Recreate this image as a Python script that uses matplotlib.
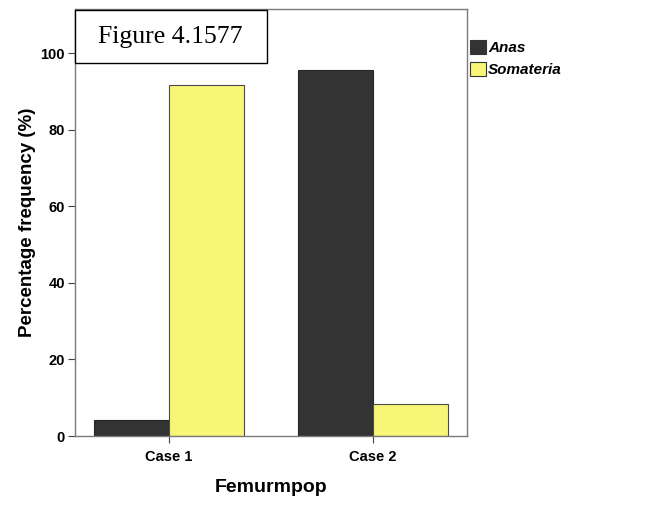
import numpy as np
import matplotlib
matplotlib.use("Agg")
from matplotlib import pyplot as plt
from matplotlib.patches import Rectangle

plt.rcParams['font.family'] = ['Liberation Sans', 'DejaVu Sans']

categories = ["Case 1", "Case 2"]
series_names = ["Anas", "Somateria"]
anas = [4.3, 95.7]
somateria = [91.7, 8.3]
y_ticks = [0, 20, 40, 60, 80, 100]

colors = ["#333333", "#f8f676"]
W, H = 669, 525

fig = plt.figure(figsize=(6.69, 5.25), dpi=100)
ax = fig.add_axes([74.7 / W, 1 - 436 / H, (467 - 74.7) / W, (436 - 9) / H])

x = np.arange(len(categories))
w = 0.368
ax.bar(x - w / 2, anas, w, color=colors[0], edgecolor="#262626", linewidth=0.8)
ax.bar(x + w / 2, somateria, w, color=colors[1], edgecolor="#4a4a4a", linewidth=0.8)

ax.set_xlim(-0.462, 1.461)
ax.set_ylim(0, 111.5)
ax.set_xticks(x)
ax.set_xticklabels(categories, fontsize=10.5, fontweight="bold")
ax.set_yticks(y_ticks)
ax.set_yticklabels([str(t) for t in y_ticks], fontsize=10.5, fontweight="bold")
ax.tick_params(direction="out", length=5, color="#444444", pad=2)
ax.tick_params(axis="x", pad=5)
for s in ax.spines.values():
    s.set_color("#7a7a7a")
    s.set_linewidth(1.0)

ax.set_xlabel("Femurmpop", fontsize=14, fontweight="bold", labelpad=11)
ax.set_ylabel("Percentage frequency (%)", fontsize=13.5, fontweight="bold", labelpad=3)

# legend drawn by hand, outside the axes on the right
for i, (name, c) in enumerate(zip(series_names, colors)):
    y0 = 40 + i * 22
    fig.add_artist(Rectangle((470 / W, 1 - (y0 + 14) / H), 16 / W, 14 / H,
                             transform=fig.transFigure, facecolor=c,
                             edgecolor="#333333", linewidth=0.8))
    fig.text(488 / W, 1 - (y0 + 7.5) / H, name, fontsize=11, style="italic",
             fontweight="bold", ha="left", va="center")

# figure caption box
fig.add_artist(Rectangle((74.7 / W, 1 - 63.3 / H), (267.3 - 74.7) / W, 53.3 / H,
                         transform=fig.transFigure, facecolor="white",
                         edgecolor="black", linewidth=1.0, zorder=9))
fig.text(170.5 / W, 1 - 37 / H, "Figure 4.1577", fontsize=18.5,
         family="Liberation Serif", ha="center", va="center", zorder=10)

fig.savefig("out.png", dpi=100)
